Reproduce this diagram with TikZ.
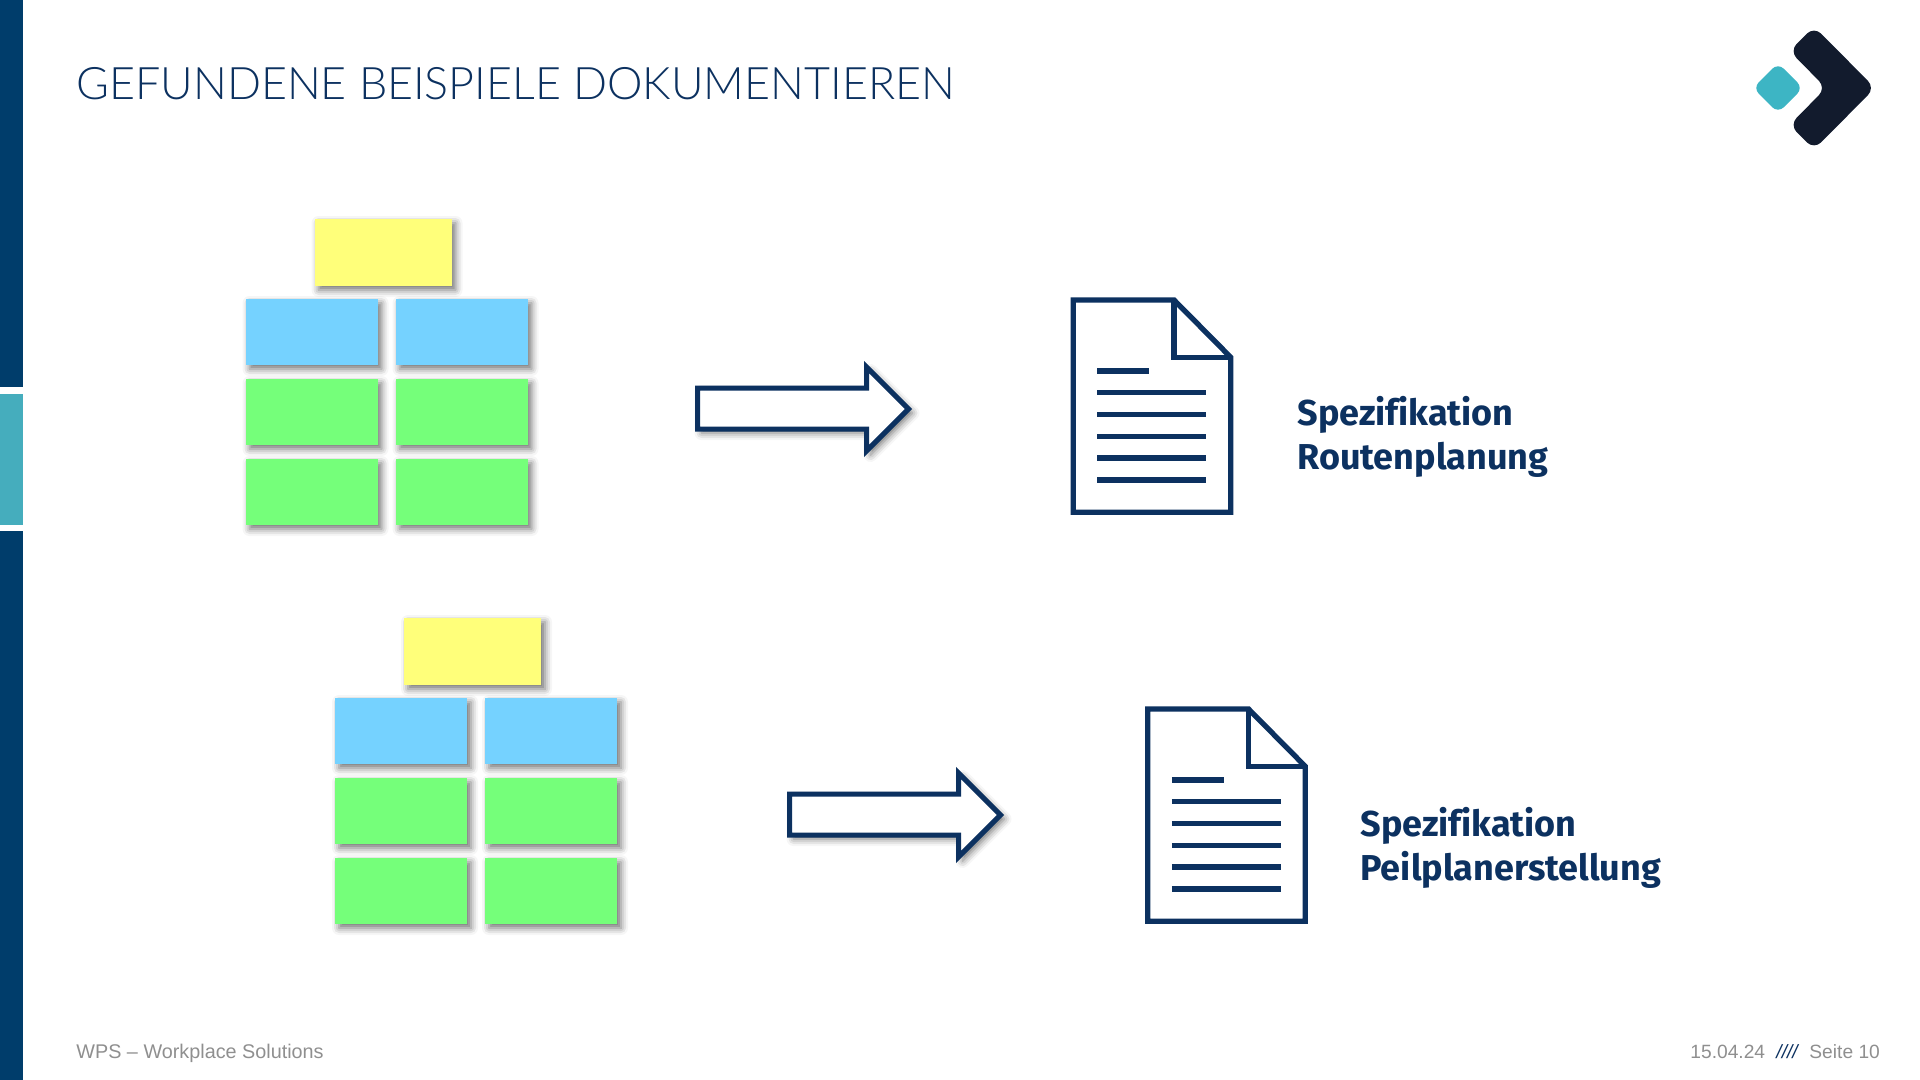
\documentclass[tikz,border=0pt]{standalone}
\usepackage{fontspec}
\setmainfont{Liberation Sans}
\newfontfamily\labelfont[Ligatures=NoCommon]{Fira Sans}
\newfontfamily\titlefont{Lato Light}
\usetikzlibrary{shadows.blur}
\definecolor{barblue}{HTML}{003D6B}
\definecolor{barteal}{HTML}{45ADBD}
\definecolor{logoteal}{HTML}{3DB5C4}
\definecolor{logodark}{HTML}{121B2D}
\definecolor{inkblue}{HTML}{0C3160}
\definecolor{footgray}{HTML}{8F8F8F}
\definecolor{noteyellow}{HTML}{FFFF7A}
\definecolor{noteblue}{HTML}{75D2FF}
\definecolor{notegreen}{HTML}{75FF7A}
\tikzset{
  note/.style={minimum width=66pt,minimum height=33pt,inner sep=0pt,
    blur shadow={shadow xshift=2pt,shadow yshift=-2pt,shadow blur radius=3.5pt,shadow opacity=55}},
  headnote/.style={note,minimum width=68.5pt,minimum height=33.5pt,fill=noteyellow},
  specarrow/.style={draw=inkblue,line width=2.5pt,fill=white,miter limit=10,
    blur shadow={shadow xshift=2pt,shadow yshift=-2pt,shadow blur radius=3.5pt,shadow opacity=55}},
  docline/.style={draw=inkblue,line width=2.65pt},
  speclabel/.style={font=\labelfont\bfseries\fontsize{18}{22}\selectfont,text=inkblue,align=left,anchor=base west,inner sep=0pt},
  foot/.style={font=\fontsize{9.6}{11}\selectfont,text=footgray,anchor=base west,inner sep=0pt},
}
\begin{document}
\begin{tikzpicture}[x=.5pt,y=-.5pt]
\useasboundingbox (0,0) rectangle (1920,1080);
% side bar
\fill[barblue](0,0)rectangle(23,387);\fill[barteal](0,394)rectangle(23,525);\fill[barblue](0,531)rectangle(23,1080);
\node[font=\titlefont\fontsize{22.4}{26}\selectfont,text=inkblue,anchor=base west,inner sep=0pt] (title) at (76,100) {GEFUNDENE BEISPIELE DOKUMENTIEREN};
% logo
\fill[logoteal,rounded corners=4pt](1778,63)--(1803,88)--(1778,113)--(1753,88)--cycle;
\fill[logodark,rounded corners=5pt](1814,26.5)--(1875,88)--(1814,149.5)--(1789.5,125)--(1826,88)--(1789.5,51)--cycle;
% two groups of notes, arrow, document
\foreach \dx/\dy/\ax/\ay/\bx/\by/\k in {0/0/0/0/0/0/a,89.5/399/92/406/74.5/409/b}{
  \begin{scope}[shift={(\dx,\dy)}]
  \node[headnote] (head\k) at (383,252.5) {};
  \node[note,fill=noteblue] (blue\k1) at (311.5,332) {};
  \node[note,fill=noteblue] (blue\k2) at (461.5,332) {};
  \node[note,fill=notegreen] (green\k1) at (311.5,412) {};
  \node[note,fill=notegreen] (green\k2) at (461.5,412) {};
  \node[note,fill=notegreen] (green\k3) at (311.5,492) {};
  \node[note,fill=notegreen] (green\k4) at (461.5,492) {};
  \end{scope}
  \begin{scope}[shift={(\ax,\ay)}]
  \draw[specarrow](697.5,388)--(866.5,388)--(866.5,367)--(908.5,409)--(866.5,451)--(866.5,429)--(697.5,429)--cycle;
  \end{scope}
  \begin{scope}[shift={(\bx,\by)}]
  \draw[docline,fill=white](1073.3,300)--(1174,300)--(1230.7,357.3)--(1230.7,512.3)--(1073.3,512.3)--cycle;
  \draw[docline](1174,300)--(1174,357.3)--(1230.7,357.3);
  \draw[docline](1097.3,371)--(1149.3,371);
  \foreach \y in {392.7,414.7,436.3,458,480}
    \draw[docline](1097.3,\y)--(1206,\y);
  \end{scope}
}
\node[speclabel] (speca) at (1297,469) {Spezifikation\\Routenplanung};
\node[speclabel] (specb) at (1360,880) {Spezifikation\\Peilplanerstellung};
% footer
\node[foot,font=\fontsize{9.9}{11}\selectfont] (wps) at (76,1058) {WPS – Workplace Solutions};
\node[foot] (date) at (1690,1058) {15.04.24};
\node[foot,text=inkblue,font=\fontsize{9.6}{11}\selectfont\itshape] (seps) at (1776,1058) {////};
\node[foot] (page) at (1809,1058) {Seite 10};
\end{tikzpicture}
\end{document}
